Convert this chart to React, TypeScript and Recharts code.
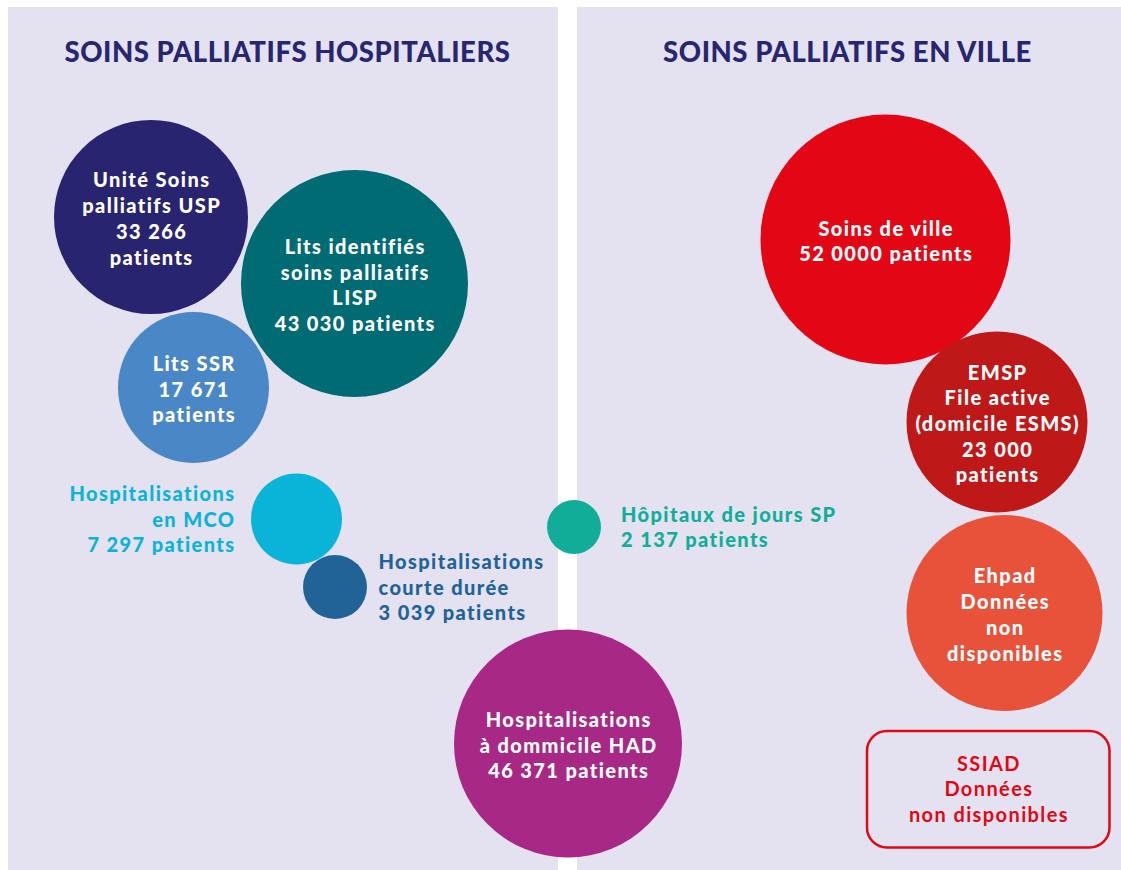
import React from 'react';
import { ScatterChart, Scatter, XAxis, YAxis, ZAxis, ReferenceArea } from 'recharts';

// ---- Layout units: the chart's x/y domains are 0..1121 and 0..870 ----
const CHART_W = 1121;
const CHART_H = 870;

// Bubble categories
const bubbleKeys = ['USP', 'LISP', 'SSR', 'MCO', 'CD', 'HDJ', 'HAD', 'VILLE', 'EMSP', 'EHPAD'];
// Reported patients (null = not available)
const patients = [33266, 43030, 17671, 7297, 3039, 2137, 46371, 520000, 23000, null];
// Bubble label lines, as printed
const bubbleLabels: string[][] = [
  ['Unité Soins', 'palliatifs USP', '33 266', 'patients'],
  ['Lits identifiés', 'soins palliatifs', 'LISP', '43 030 patients'],
  ['Lits SSR', '17 671', 'patients'],
  ['Hospitalisations', 'en MCO', '7 297 patients'],
  ['Hospitalisations', 'courte durée', '3 039 patients'],
  ['Hôpitaux de jours SP', '2 137 patients'],
  ['Hospitalisations', 'à dommicile HAD', '46 371 patients'],
  ['Soins de ville', '52 0000 patients'],
  ['EMSP', 'File active', '(domicile ESMS)', '23 000', 'patients'],
  ['Ehpad', 'Données', 'non', 'disponibles'],
];
// Bubble placement in layout units (centre x, centre y) and displayed radius
const bubbleX = [151, 354.5, 193.5, 296.5, 335, 574, 568, 885.5, 997, 1004.5];
const bubbleY = [217, 283.5, 387.5, 519, 587, 527, 743.5, 239.5, 422, 613];
const bubbleR = [97, 113.5, 75.5, 45.5, 32, 27, 114, 125, 90.5, 98];

// Styles
const bubbleColors = ['#29246f', '#006b73', '#4a87c6', '#0ab4d9', '#226397', '#10ae98', '#a72985', '#e30716', '#bf1818', '#e8523a'];
const labelPos = ['inside', 'inside', 'inside', 'left', 'right', 'right', 'inside', 'inside', 'inside', 'inside'];
const labelGap = [0, 0, 0, 15.5, 11.5, 20, 0, 0, 0, 0];

// Panel titles
const titleTexts = ['SOINS PALLIATIFS HOSPITALIERS', 'SOINS PALLIATIFS EN VILLE'];
const titleX = [287.5, 847.5];
const titleY = [51.7, 51.7];

// Panels
const panelX1 = [8, 577];
const panelX2 = [558, 1121];
const PANEL_Y1 = 7;
const PANEL_Y2 = 870;

// SSIAD box
const ssiadLines = ['SSIAD', 'Données', 'non disponibles'];
const SSIAD_BOX = { x1: 867, x2: 1109.5, y1: 731, y2: 847.5 };

const FONT = 'Lato, "Open Sans", sans-serif';
const LINE_H = 25.7;
const BODY_SIZE = 20;
const BODY_WEIGHT = 900;
const BODY_SPACING = 1.4;

const bubbleData = bubbleKeys.map((k, i) => ({
  key: k,
  x: bubbleX[i],
  y: bubbleY[i],
  z: bubbleR[i] * bubbleR[i],
  patients: patients[i],
  lines: bubbleLabels[i],
  color: bubbleColors[i],
  pos: labelPos[i],
  gap: labelGap[i],
}));

const titleData = titleTexts.map((t, i) => ({ x: titleX[i], y: titleY[i], text: t }));

const Z_MAX = 20000;

const Bubble = (props: any) => {
  const { cx, cy, width, payload } = props;
  const r = width / 2;
  const lines: string[] = payload.lines;
  const n = lines.length;
  let tx = cx + BODY_SPACING / 2;
  let anchor: 'middle' | 'start' | 'end' = 'middle';
  let textColor = '#ffffff';
  let shift = 9;
  if (payload.pos === 'left') {
    tx = cx - r - payload.gap;
    anchor = 'end';
    textColor = payload.color;
    shift = 7.5;
  } else if (payload.pos === 'right') {
    tx = cx + r + payload.gap;
    anchor = 'start';
    textColor = payload.color;
    shift = 7.5;
  }
  return (
    <g>
      <circle cx={cx} cy={cy} r={r} fill={payload.color} />
      <text
        textAnchor={anchor}
        fill={textColor}
        fontSize={BODY_SIZE}
        fontWeight={BODY_WEIGHT}
        letterSpacing={BODY_SPACING}
        fontFamily={FONT}
      >
        {lines.map((l, i) => (
          <tspan key={i} x={tx} y={cy + (i - (n - 1) / 2) * LINE_H + shift}>
            {l}
          </tspan>
        ))}
      </text>
    </g>
  );
};

const Title = (props: any) => {
  const { cx, cy, payload } = props;
  return (
    <text
      x={cx}
      y={cy + 10}
      textAnchor="middle"
      fill="#27266f"
      fontSize={27.5}
      fontWeight={900}
      letterSpacing={0.55}
      fontFamily={FONT}
    >
      {payload.text}
    </text>
  );
};

const ssiadLabel = (p: any) => {
  const vb = p.viewBox || {};
  const cx = vb.x + vb.width / 2 + BODY_SPACING / 2;
  const cy = vb.y + vb.height / 2;
  const n = ssiadLines.length;
  return (
    <text
      textAnchor="middle"
      fill="#e30613"
      fontSize={BODY_SIZE}
      fontWeight={700}
      letterSpacing={BODY_SPACING}
      fontFamily={FONT}
    >
      {ssiadLines.map((l, i) => (
        <tspan key={i} x={cx} y={cy + (i - (n - 1) / 2) * LINE_H + 7}>
          {l}
        </tspan>
      ))}
    </text>
  );
};

const ssiadShape = (p: any) => (
  <rect x={p.x} y={p.y} width={p.width} height={p.height} rx={20} ry={20} fill="none" stroke="#e30613" strokeWidth={2.5} />
);

export default function App() {
  return (
    <div style={{ position: 'absolute', left: 0, top: 0, width: CHART_W, height: CHART_H, background: '#ffffff' }}>
      <ScatterChart width={CHART_W} height={CHART_H} margin={{ top: 0, right: 0, bottom: 0, left: 0 }}>
        <XAxis type="number" dataKey="x" domain={[0, CHART_W]} hide allowDataOverflow />
        <YAxis type="number" dataKey="y" domain={[0, CHART_H]} reversed hide allowDataOverflow />
        <ZAxis type="number" dataKey="z" domain={[0, Z_MAX]} range={[0, Math.PI * Z_MAX]} />
        {panelX1.map((x1, i) => (
          <ReferenceArea
            key={i}
            x1={x1}
            x2={panelX2[i]}
            y1={PANEL_Y1}
            y2={PANEL_Y2}
            fill="#e4e2f1"
            fillOpacity={1}
            stroke="none"
            ifOverflow="visible"
          />
        ))}
        <ReferenceArea
          x1={SSIAD_BOX.x1}
          x2={SSIAD_BOX.x2}
          y1={SSIAD_BOX.y1}
          y2={SSIAD_BOX.y2}
          shape={ssiadShape}
          label={ssiadLabel}
          ifOverflow="visible"
        />
        <Scatter data={titleData} shape={Title} isAnimationActive={false} />
        <Scatter data={bubbleData} shape={Bubble} isAnimationActive={false} />
      </ScatterChart>
    </div>
  );
}
